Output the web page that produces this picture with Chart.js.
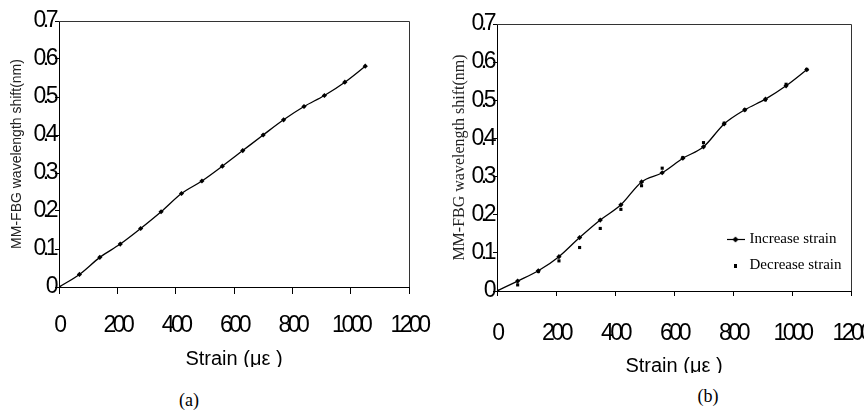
<!DOCTYPE html>
<html>
<head>
<meta charset="utf-8">
<script src="https://cdn.jsdelivr.net/npm/chart.js@4.4.1/dist/chart.umd.min.js"></script>
<style>
body { margin: 0; background: #fff; width: 864px; height: 411px; position: relative; overflow: hidden; }
#chartA { position: absolute; left: 0; top: 0; }
#chartB { position: absolute; left: 432px; top: 0; }
.cap { position: absolute; font-family: 'Liberation Serif', 'Times New Roman', serif; font-size: 18px; color: #000; transform: translate(-50%, -50%); }
</style>
</head>
<body>
<canvas id="chartA" width="432" height="367"></canvas>
<canvas id="chartB" width="432" height="373"></canvas>
<div class="cap" style="left:189px; top:400px;">(a)</div>
<div class="cap" style="left:708px; top:396px;">(b)</div>
<script>
// strain steps (με), same for both plots
var strainA = [0, 70, 140, 210, 280, 350, 420, 490, 560, 630, 700, 770, 840, 910, 980, 1050];
var shiftA = [0, 0.033, 0.078, 0.113, 0.154, 0.198, 0.246, 0.279, 0.318, 0.359, 0.400, 0.440, 0.475, 0.504, 0.539, 0.581];

var strainB = [0, 70, 140, 210, 280, 350, 420, 490, 560, 630, 700, 770, 840, 910, 980, 1050];
var increaseB = [0, 0.026, 0.053, 0.090, 0.140, 0.186, 0.226, 0.286, 0.310, 0.348, 0.378, 0.438, 0.475, 0.503, 0.538, 0.580];
var decreaseB = [0, 0.016, 0.051, 0.079, 0.114, 0.164, 0.214, 0.276, 0.322, 0.350, 0.389, 0.440, 0.475, 0.501, 0.542, 0.581];

var xTicks = [0, 200, 400, 600, 800, 1000, 1200];
var yTicks = [0, 0.1, 0.2, 0.3, 0.4, 0.5, 0.6, 0.7];

var seriesNames = ['Increase strain', 'Decrease strain'];
var xTitle = 'Strain (με )';
var yTitle = 'MM-FBG wavelength shift(nm)';

function pts(xs, ys) {
	return xs.map(function(x, i) { return { x: x, y: ys[i] }; });
}

var tickFont = { family: "'Liberation Sans', Arial, sans-serif", size: 23 };

// top + right edge of the plot box
var frame = {
	id: 'frame',
	beforeDatasetsDraw: function(chart) {
		var a = chart.chartArea, ctx = chart.ctx;
		ctx.save();
		ctx.strokeStyle = '#333';
		ctx.lineWidth = 1;
		ctx.beginPath();
		ctx.moveTo(a.left, Math.floor(a.top) + 0.5);
		ctx.lineTo(Math.floor(a.right) + 0.5, Math.floor(a.top) + 0.5);
		ctx.lineTo(Math.floor(a.right) + 0.5, a.bottom);
		ctx.stroke();
		ctx.restore();
	}
};

// tick labels in the original are squeezed together; they are drawn after the datasets (ticks.z = 1)
var squeeze = {
	id: 'squeeze',
	afterDatasetsDraw: function(chart) { chart.ctx.letterSpacing = '-3.5px'; },
	afterDraw: function(chart) { chart.ctx.letterSpacing = '0px'; }
};

function axes(o) {
	return {
		x: {
			type: 'linear', min: xTicks[0], max: xTicks[xTicks.length - 1],
			afterBuildTicks: function(s) { s.ticks = xTicks.map(function(v) { return { value: v }; }); },
			ticks: { z: 1, padding: o.xPad, color: '#000', font: tickFont, maxRotation: 0,
				callback: function(v) { return String(v); } },
			grid: { display: true, drawOnChartArea: false, drawTicks: true, tickLength: o.xTick, color: '#000', lineWidth: 1 },
			border: { display: true, color: '#000', width: 1 },
			title: { display: true, text: xTitle, color: '#000',
				font: { family: "'Liberation Sans', Arial, sans-serif", size: 20, lineHeight: o.xTitleLH }, padding: 0 },
			afterFit: function(s) { s.height = o.xHeight; s.paddingLeft = 0; s.paddingRight = 0; }
		},
		y: {
			type: 'linear', min: yTicks[0], max: yTicks[yTicks.length - 1],
			afterBuildTicks: function(s) { s.ticks = yTicks.map(function(v) { return { value: v }; }); },
			ticks: { z: 1, padding: 0, color: '#000', font: tickFont,
				callback: function(v) { return v === 0 ? '0' : v.toFixed(1); } },
			grid: { display: true, drawOnChartArea: false, drawTicks: true, tickLength: 4, color: '#000', lineWidth: 1 },
			border: { display: true, color: '#000', width: 1 },
			title: { display: true, text: yTitle, color: '#222', font: o.yTitleFont, padding: { top: o.yTitlePad, bottom: 0 } },
			afterFit: function(s) { s.width = o.yWidth; s.paddingTop = 0; s.paddingBottom = 0; }
		}
	};
}

new Chart(document.getElementById('chartA'), {
	type: 'scatter',
	data: {
		datasets: [{
			label: seriesNames[0],
			data: pts(strainA, shiftA),
			showLine: true,
			borderColor: '#000',
			backgroundColor: '#000',
			borderWidth: 1.3,
			pointStyle: 'rectRot',
			pointRadius: 2.6,
			pointBorderWidth: 0,
			cubicInterpolationMode: 'monotone'
		}]
	},
	options: {
		responsive: false,
		animation: false,
		layout: { padding: { left: 0, top: 21, right: 23, bottom: 0 } },
		plugins: { legend: { display: false }, tooltip: { enabled: false } },
		scales: axes({ xPad: 18, xTick: 7, xHeight: 80, xTitleLH: 0.8, yWidth: 59, yTitlePad: 8.6,
			yTitleFont: { family: "'Liberation Sans', Arial, sans-serif", size: 14, lineHeight: 1.2 } })
	},
	plugins: [frame, squeeze]
});

function markerLine() {
	var c = document.createElement('canvas');
	c.width = 18; c.height = 7;
	var g = c.getContext('2d');
	g.strokeStyle = '#000'; g.lineWidth = 1.2;
	g.beginPath(); g.moveTo(0, 3.5); g.lineTo(18, 3.5); g.stroke();
	g.fillStyle = '#000';
	g.beginPath(); g.moveTo(9, 0.5); g.lineTo(12, 3.5); g.lineTo(9, 6.5); g.lineTo(6, 3.5); g.closePath(); g.fill();
	return c;
}
function markerDot() {
	var c = document.createElement('canvas');
	c.width = 3; c.height = 4;
	var g = c.getContext('2d');
	g.fillStyle = '#000'; g.fillRect(0, 0, 3, 4);
	return c;
}
var legendMarks = [markerLine(), markerDot()];

// park the legend inside the plot, lower right
var placeLegend = {
	id: 'placeLegend',
	afterLayout: function(chart) {
		var lg = chart.legend;
		if (!lg) return;
		lg.left = 286; lg.right = lg.left + 140;
		lg.top = 221; lg.bottom = lg.top + 100;
		lg.width = 140; lg.height = 100;
	}
};

new Chart(document.getElementById('chartB'), {
	type: 'scatter',
	data: {
		datasets: [{
			label: seriesNames[0],
			data: pts(strainB, increaseB),
			showLine: true,
			borderColor: '#000',
			backgroundColor: '#000',
			borderWidth: 1.3,
			pointStyle: 'rectRot',
			pointRadius: 2.6,
			pointBorderWidth: 0,
			cubicInterpolationMode: 'monotone'
		}, {
			label: seriesNames[1],
			data: pts(strainB, decreaseB),
			showLine: false,
			borderColor: '#000',
			backgroundColor: '#000',
			pointStyle: 'rect',
			pointRadius: 2.2,
			pointBorderWidth: 0
		}]
	},
	options: {
		responsive: false,
		animation: false,
		layout: { padding: { left: 0, top: 24, right: 13, bottom: 0 } },
		plugins: {
			tooltip: { enabled: false },
			legend: {
				display: true,
				position: 'chartArea',
				align: 'start',
				labels: {
					usePointStyle: true,
					pointStyleWidth: 13,
					padding: 11,
					color: '#000',
					font: { family: "'Liberation Serif', 'Times New Roman', serif", size: 15 },
					generateLabels: function(chart) {
						var items = Chart.defaults.plugins.legend.labels.generateLabels(chart);
						items.forEach(function(it, i) { it.pointStyle = legendMarks[i]; });
						return items;
					}
				}
			}
		},
		scales: axes({ xPad: 24, xTick: 5, xHeight: 82, xTitleLH: 0.7, yWidth: 65, yTitlePad: 18.4,
			yTitleFont: { family: "'Liberation Serif', 'Times New Roman', serif", size: 16, lineHeight: 1.2 } })
	},
	plugins: [frame, squeeze, placeLegend]
});
</script>
</body>
</html>
